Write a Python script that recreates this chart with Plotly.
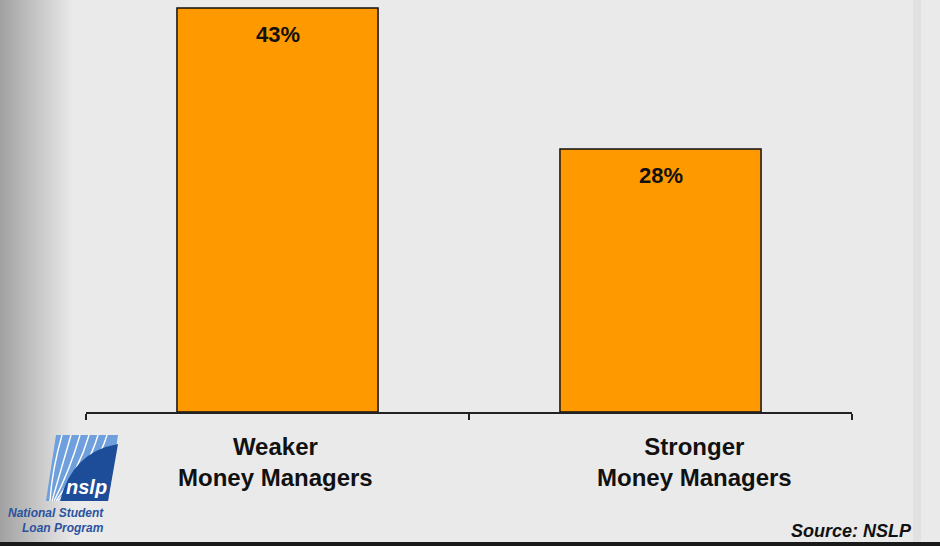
import plotly.graph_objects as go

categories = ["Weaker<br>Money Managers", "Stronger<br>Money Managers"]
values = [43, 28]
value_labels = ["43%", "28%"]

W, H = 940, 546
L, R, T, B = 86, 88, 0, 134
PW, PH = W - L - R, H - T - B


def px(x):
    return (x - L) / PW


def py(y):
    return (H - B - y) / PH


FONT = "Liberation Sans, Arial, sans-serif"

fig = go.Figure()
fig.add_trace(go.Bar(
    x=categories,
    y=values,
    width=0.525,
    marker=dict(color="#FF9900", line=dict(color="#111111", width=1.5)),
    hoverinfo="skip",
))

# value labels at the top inside each bar
for cat, v, lab in zip(categories, values, value_labels):
    fig.add_annotation(
        x=cat, y=v, text="<b>" + lab + "</b>", showarrow=False,
        yanchor="top", yshift=-12,
        font=dict(family=FONT, size=22, color="#111111"),
    )

# category labels (the second one sits a little right of its bar in the original)
label_shift = [-2, 34]
for cat, xs in zip(categories, label_shift):
    fig.add_annotation(
        x=cat, xref="x", yref="paper", y=py(462), yanchor="middle", xshift=xs,
        text="<b>" + cat + "</b>", showarrow=False,
        font=dict(family=FONT, size=24, color="#111111"),
    )

shapes = []
# darker paper edge on the left
for i in range(36):
    shapes.append(dict(
        type="rect", xref="paper", yref="paper",
        x0=px(0), x1=px(2 + i * 2), y0=py(H), y1=py(0),
        fillcolor="rgba(0,0,0,0.008)", line=dict(width=0), layer="below",
    ))
# faint stitched strip on the right
shapes.append(dict(
    type="rect", xref="paper", yref="paper",
    x0=px(913), x1=px(921), y0=py(H), y1=py(0),
    fillcolor="rgba(0,0,0,0.035)", line=dict(width=0), layer="below",
))
# dark strip at the bottom
shapes.append(dict(
    type="rect", xref="paper", yref="paper",
    x0=px(0), x1=px(W), y0=py(H), y1=py(542),
    fillcolor="#1a1a1a", line=dict(width=0),
))


def pth(points):
    s = ""
    for i, (a, b) in enumerate(points):
        s += ("M" if i == 0 else "L") + f"{px(a):.5f},{py(b):.5f} "
    return s + "Z"


# logo: light blue parallelogram with a dark blue swoosh
shapes.append(dict(
    type="path", xref="paper", yref="paper",
    path=pth([(56, 435), (118, 435), (108, 501), (46, 501)]),
    fillcolor="#6f9fdc", line=dict(width=0),
))
for k in range(6):
    x_top = 62 + k * 9
    shapes.append(dict(
        type="path", xref="paper", yref="paper",
        path=f"M{px(x_top):.5f},{py(435):.5f} Q{px(x_top - 10):.5f},{py(470):.5f} {px(50 + k * 2):.5f},{py(501):.5f}",
        line=dict(color="white", width=1.4),
    ))
shapes.append(dict(
    type="path", xref="paper", yref="paper",
    path=(f"M{px(118):.5f},{py(444):.5f} L{px(108):.5f},{py(501):.5f} "
          f"L{px(60):.5f},{py(501):.5f} Q{px(72):.5f},{py(452):.5f} {px(118):.5f},{py(444):.5f} Z"),
    fillcolor="#1d4c99", line=dict(width=0),
))

fig.add_annotation(
    xref="paper", yref="paper", x=px(86), y=py(487), xanchor="center", yanchor="middle",
    text="<b><i>nslp</i></b>",
    showarrow=False, font=dict(family=FONT, size=20, color="white"),
)
fig.add_annotation(
    xref="paper", yref="paper", x=px(106), y=py(513), xanchor="right", yanchor="middle",
    text="<b><i>National Student</i></b>", showarrow=False,
    font=dict(family=FONT, size=12, color="#2b539e"),
)
fig.add_annotation(
    xref="paper", yref="paper", x=px(106), y=py(528), xanchor="right", yanchor="middle",
    text="<b><i>Loan Program</i></b>", showarrow=False,
    font=dict(family=FONT, size=12, color="#2b539e"),
)
fig.add_annotation(
    xref="paper", yref="paper", x=px(914), y=py(531), xanchor="right", yanchor="middle",
    text="<b><i>Source: NSLP</i></b>", showarrow=False,
    font=dict(family=FONT, size=18, color="#111111"),
)

fig.update_layout(
    width=W, height=H,
    margin=dict(l=L, r=R, t=T, b=B),
    paper_bgcolor="#eaeaea",
    plot_bgcolor="rgba(0,0,0,0)",
    showlegend=False,
    shapes=shapes,
    font=dict(family=FONT, color="#111111"),
    xaxis=dict(
        showline=True, linecolor="#222222", linewidth=1.5,
        ticks="outside", tickson="boundaries", ticklen=6, tickcolor="#222222",
        tickwidth=1.5, showgrid=False, showticklabels=False,
    ),
    yaxis=dict(visible=False, range=[0, 43.85], showgrid=False),
)

fig.write_html("out.html", config={"displayModeBar": False},
               post_script="document.body.style.margin='0';")
